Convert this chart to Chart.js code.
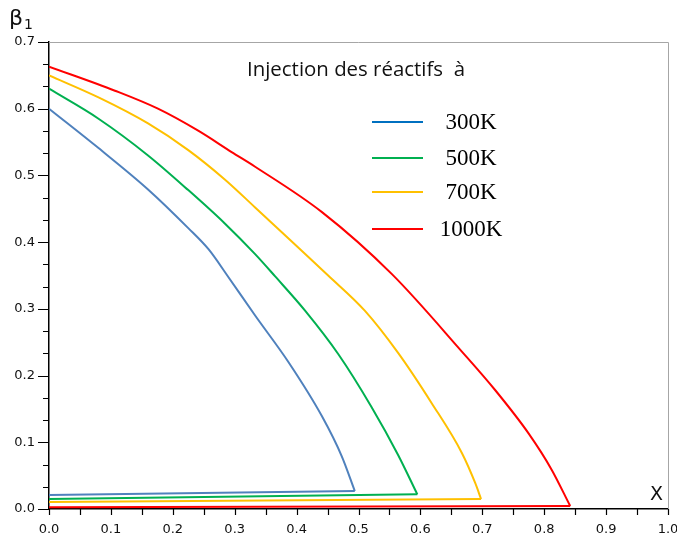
<!DOCTYPE html>
<html>
<head>
<meta charset="utf-8">
<script src="https://cdn.jsdelivr.net/npm/chart.js@4/dist/chart.umd.min.js"></script>
<style>
  html, body { margin: 0; padding: 0; background: #fff; }
  #wrap { width: 677px; height: 535px; }
</style>
</head>
<body>
<div id="wrap"><canvas id="c" width="677" height="535"></canvas></div>
<script>
// Series labels (inlet temperature of the reactants)
const seriesLabels = ['300K', '500K', '700K', '1000K'];
const lineColors   = ['#4F81BD', '#00B050', '#FFC000', '#FF0000'];
const legendColors = ['#0070C0', '#00B050', '#FFC000', '#FF0000'];

// Upper branch of each curve: [X, beta1]
const upper300 = [[0,0.600],[0.08,0.541],[0.16,0.479],[0.225,0.421],[0.258,0.389],[0.288,0.350],[0.333,0.290],[0.387,0.220],[0.441,0.139],[0.473,0.079],[0.494,0.027]];
const upper500 = [[0,0.630],[0.08,0.585],[0.16,0.530],[0.225,0.478],[0.284,0.428],[0.333,0.382],[0.365,0.349],[0.414,0.297],[0.4675,0.232],[0.521,0.153],[0.564,0.081],[0.595,0.022]];
const upper700 = [[0,0.650],[0.08,0.617],[0.16,0.578],[0.225,0.538],[0.284,0.494],[0.333,0.452],[0.451,0.350],[0.5105,0.297],[0.564,0.234],[0.618,0.159],[0.667,0.084],[0.6885,0.039],[0.698,0.015]];
const upper1000 = [[0,0.663],[0.1065,0.627],[0.176,0.600],[0.241,0.567],[0.295,0.535],[0.333,0.513],[0.441,0.445],[0.554,0.352],[0.667,0.236],[0.721,0.178],[0.775,0.113],[0.812,0.059],[0.842,0.0045]];

// Lower (return) branch of each curve
const lower300  = [[0.494,0.027],[0,0.021]];
const lower500  = [[0.595,0.022],[0,0.015]];
const lower700  = [[0.698,0.015],[0,0.0105]];
const lower1000 = [[0.842,0.0045],[0,0.0025]];

// Axis ticks
const xTicks = [0,0.1,0.2,0.3,0.4,0.5,0.6,0.7,0.8,0.9,1.0];
const yTicks = [0,0.1,0.2,0.3,0.4,0.5,0.6,0.7];

const uppers = [upper300, upper500, upper700, upper1000];
const lowers = [lower300, lower500, lower700, lower1000];
const toPts = arr => arr.map(p => ({x: p[0], y: p[1]}));

const datasets = [];
uppers.forEach((u, i) => {
  datasets.push({
    label: seriesLabels[i], data: toPts(u), showLine: true,
    borderColor: lineColors[i], borderWidth: 2, pointRadius: 0,
    cubicInterpolationMode: 'monotone', fill: false
  });
  datasets.push({
    label: '', data: toPts(lowers[i]), showLine: true,
    borderColor: lineColors[i], borderWidth: 2, pointRadius: 0, tension: 0, fill: false
  });
});

const decor = {
  id: 'decor',
  afterDraw(chart) {
    const ctx = chart.ctx;
    const xs = chart.scales.x, ys = chart.scales.y;
    const a = chart.chartArea;
    ctx.save();
    // frame on top and right
    ctx.strokeStyle = '#a6a6a6';
    ctx.lineWidth = 1;
    ctx.beginPath();
    ctx.moveTo(a.left, a.top + 0.5); ctx.lineTo(a.right + 0.5, a.top + 0.5);
    ctx.lineTo(a.right + 0.5, a.bottom);
    ctx.stroke();

    // tick marks, major and minor
    ctx.strokeStyle = '#000';
    ctx.lineWidth = 1.2;
    ctx.beginPath();
    for (let i = 0; i <= 21; i++) {
      const py = Math.round(ys.getPixelForValue(i * 0.7 / 21)) + 0.5;
      const len = (i % 3 === 0) ? 11 : 6;
      ctx.moveTo(a.left - len, py); ctx.lineTo(a.left, py);
    }
    for (let i = 0; i <= 20; i++) {
      const px = Math.round(xs.getPixelForValue(i * 0.05)) + 0.5;
      ctx.moveTo(px, a.bottom); ctx.lineTo(px, a.bottom + 6);
    }
    ctx.stroke();

    // axis names
    ctx.fillStyle = '#111';
    ctx.textBaseline = 'alphabetic';
    ctx.textAlign = 'left';
    ctx.font = '22px "DejaVu Sans"';
    ctx.fillText('\u03B2', 9, 25);
    ctx.font = '14px "DejaVu Sans"';
    ctx.fillText('1', 24, 29);
    ctx.font = '19px "DejaVu Sans"';
    ctx.fillText('X', 650, 500);

    // heading, stretched to its box width
    const heading = 'Injection des r\u00e9actifs  \u00e0';
    ctx.font = '20px "Open Sans"';
    const w = ctx.measureText(heading).width;
    ctx.save();
    ctx.translate(247, 76);
    ctx.scale(218 / w, 1);
    ctx.fillText(heading, 0, 0);
    ctx.restore();

    // legend
    const rows = [122, 158, 192, 229];
    ctx.font = '23px "Liberation Serif"';
    ctx.textAlign = 'center';
    ctx.textBaseline = 'middle';
    chart.data.datasets.filter(d => d.label).forEach((d, i) => {
      ctx.strokeStyle = legendColors[i];
      ctx.lineWidth = 2;
      ctx.beginPath();
      ctx.moveTo(372, rows[i]); ctx.lineTo(423, rows[i]);
      ctx.stroke();
      ctx.fillStyle = '#000';
      ctx.fillText(d.label, 471, rows[i] + 1);
    });
    ctx.restore();
  }
};

new Chart(document.getElementById('c'), {
  type: 'scatter',
  data: { datasets },
  options: {
    responsive: false,
    animation: false,
    devicePixelRatio: 1,
    layout: { padding: { left: 0, top: 42, right: 9, bottom: 0 } },
    plugins: { legend: { display: false }, tooltip: { enabled: false } },
    scales: {
      x: {
        type: 'linear', min: 0, max: 1,
        afterBuildTicks: s => { s.ticks = xTicks.map(v => ({value: v})); },
        afterFit: s => { s.height = 26; s.paddingLeft = 0; s.paddingRight = 0; },
        grid: { display: false, drawTicks: false },
        border: { display: true, color: '#000', width: 1.5 },
        ticks: {
          padding: 13, color: '#111', font: { family: 'DejaVu Sans', size: 13 },
          callback: v => v.toFixed(1), maxRotation: 0, autoSkip: false
        }
      },
      y: {
        type: 'linear', min: 0, max: 0.7,
        afterBuildTicks: s => { s.ticks = yTicks.map(v => ({value: v})); },
        afterFit: s => { s.width = 49; s.paddingTop = 0; s.paddingBottom = 0; },
        grid: { display: false, drawTicks: false },
        border: { display: true, color: '#000', width: 1.5 },
        ticks: {
          padding: 14, color: '#111', font: { family: 'DejaVu Sans', size: 13 },
          callback: v => v.toFixed(1), autoSkip: false
        }
      }
    }
  },
  plugins: [decor]
});
</script>
</body>
</html>
